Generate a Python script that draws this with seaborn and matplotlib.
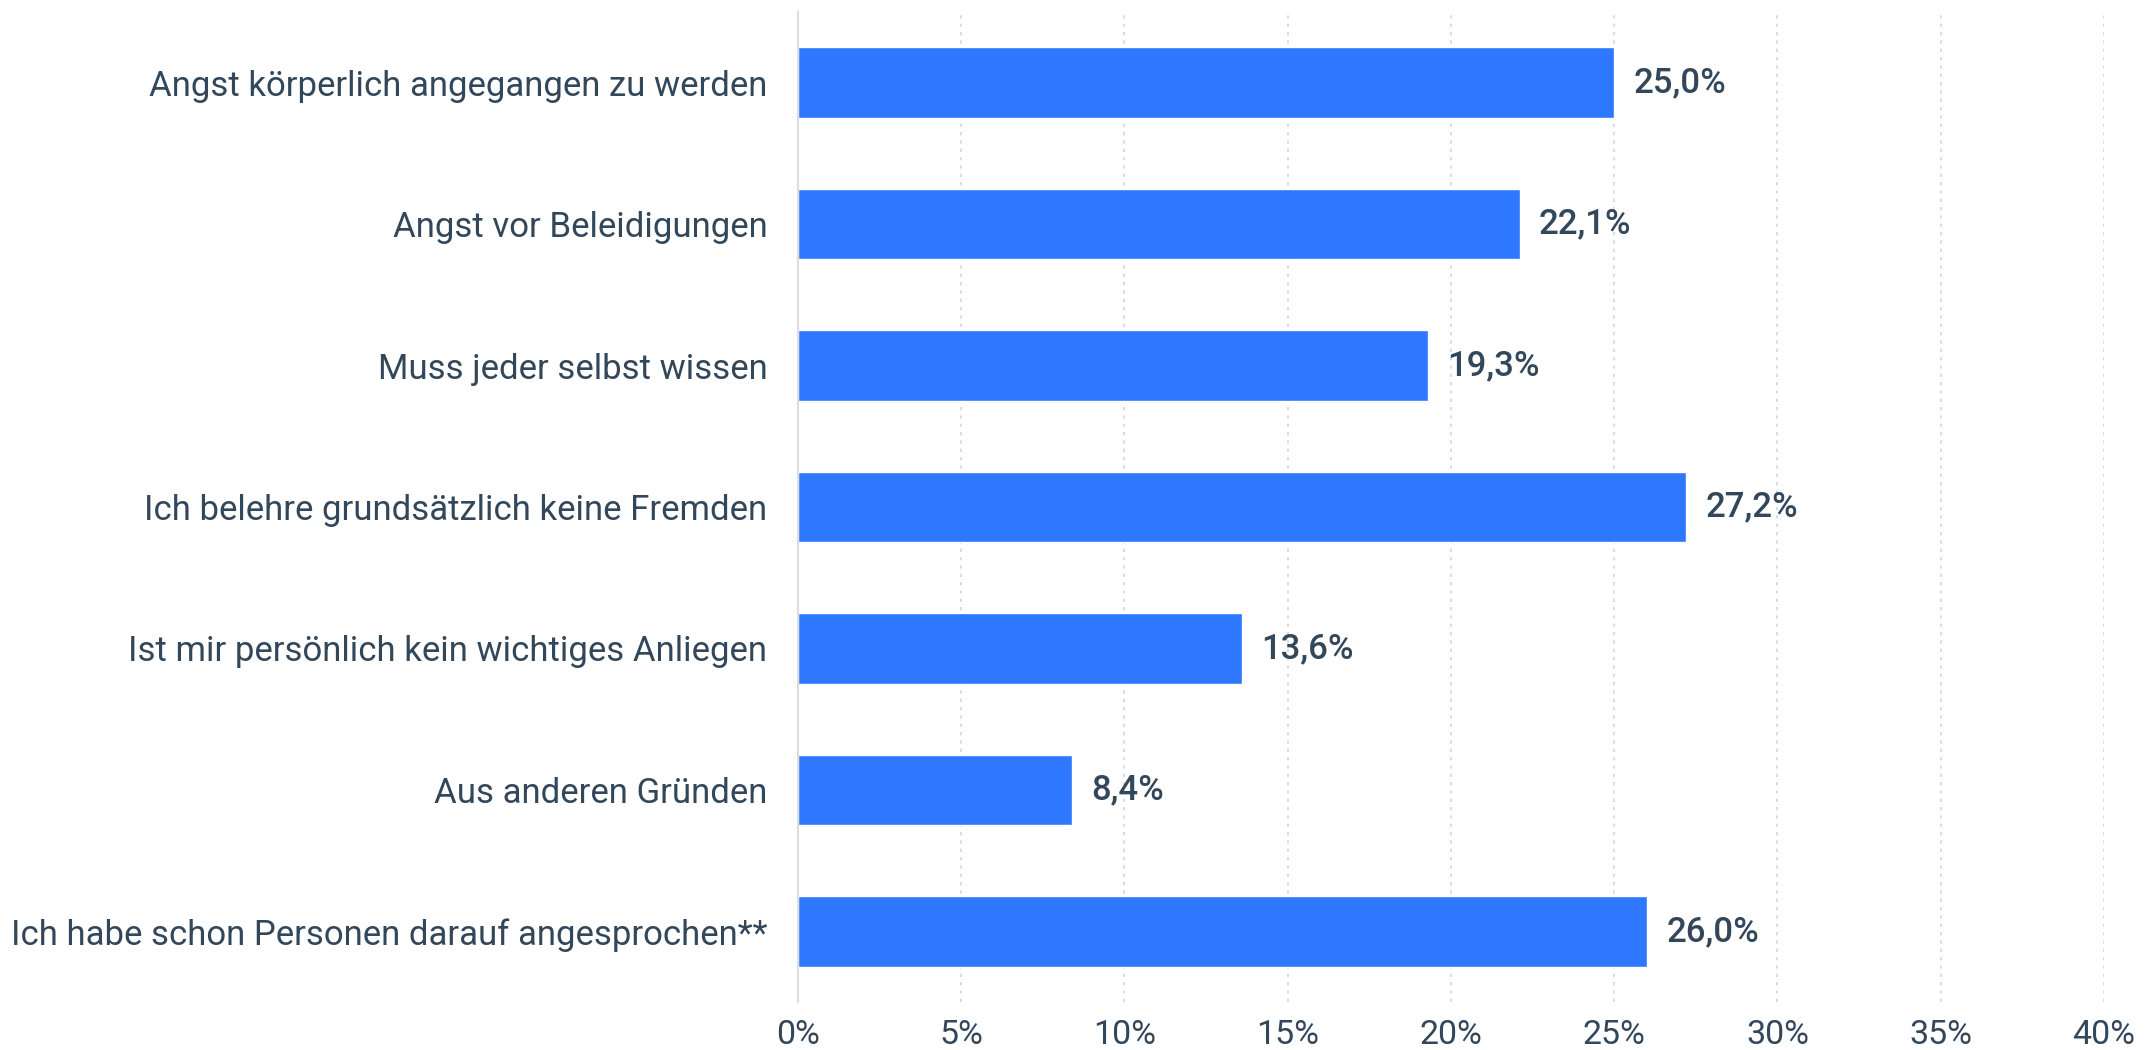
import matplotlib
matplotlib.use("Agg")
import matplotlib.pyplot as plt
import seaborn as sns
import pandas as pd
from matplotlib.ticker import FuncFormatter

categories = [
    "Angst körperlich angegangen zu werden",
    "Angst vor Beleidigungen",
    "Muss jeder selbst wissen",
    "Ich belehre grundsätzlich keine Fremden",
    "Ist mir persönlich kein wichtiges Anliegen",
    "Aus anderen Gründen",
    "Ich habe schon Personen darauf angesprochen**",
]
values = [25.0, 22.1, 19.3, 27.2, 13.6, 8.4, 26.0]
x_ticks = [0, 5, 10, 15, 20, 25, 30, 35, 40]

df = pd.DataFrame({"category": categories, "value": values})

sns.set_theme(style="white")
plt.rcParams["font.family"] = ["Roboto", "DejaVu Sans"]

TEXT = "#33475b"
BAR = "#2e78ff"

fig = plt.figure(figsize=(21.52, 10.5), dpi=100)
ax = fig.add_axes([0.3708, 0.0457, 0.9777 - 0.3708, 0.9886 - 0.0457])

sns.barplot(data=df, x="value", y="category", color=BAR, width=0.5,
            saturation=1, ax=ax, orient="h")

ax.set_xlim(0, 40)
ax.set_ylim(6.5, -0.5)
ax.set_xticks(x_ticks)
ax.xaxis.set_major_formatter(FuncFormatter(lambda v, p: f"{int(v)}%"))
ax.set_xlabel("")
ax.set_ylabel("")

for s in ["top", "right", "bottom"]:
    ax.spines[s].set_visible(False)
ax.spines["left"].set_color("#dddddd")
ax.spines["left"].set_linewidth(1.5)

ax.grid(axis="x", linestyle=(0, (2, 3)), color="#d5d5d5", linewidth=1.2)
ax.set_axisbelow(True)
for gl in ax.get_xgridlines()[:1]:
    gl.set_visible(False)

ax.tick_params(axis="y", length=0, pad=22, labelsize=25, labelcolor=TEXT)
ax.tick_params(axis="x", length=0, pad=12, labelsize=24.5, labelcolor=TEXT)

for i, v in enumerate(values):
    ax.annotate(f"{v:.1f}%".replace(".", ","), xy=(v, i), xytext=(14, 0),
                textcoords="offset points", va="center", ha="left",
                fontsize=25, fontweight="medium", color=TEXT)

fig.savefig("out.png", dpi=100)
